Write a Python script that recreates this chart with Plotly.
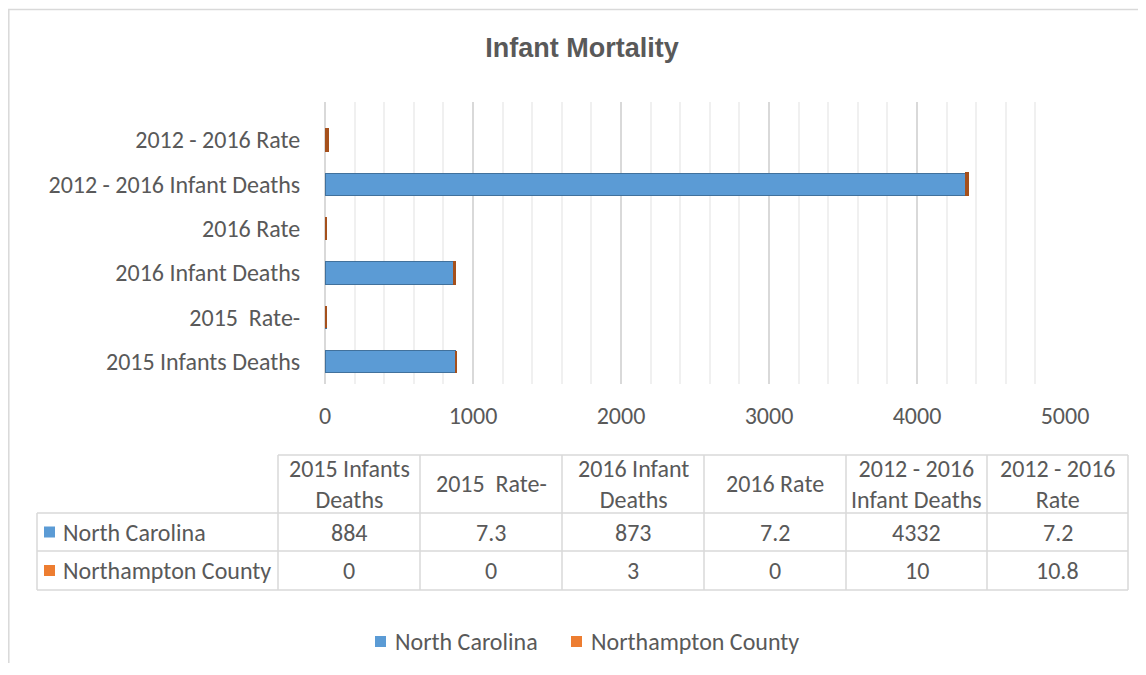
import plotly.graph_objects as go

# ---------------- data ----------------
categories = ["2015 Infants Deaths", "2015\u00a0 Rate-", "2016 Infant Deaths",
              "2016 Rate", "2012 - 2016 Infant Deaths", "2012 - 2016 Rate"]
header_labels = ["2015 Infants<br>Deaths", "2015\u00a0 Rate-", "2016 Infant<br>Deaths",
                 "2016 Rate", "2012 - 2016<br>Infant Deaths", "2012 - 2016<br>Rate"]
series_names = ["North Carolina", "Northampton County"]
north_carolina = [884, 7.3, 873, 7.2, 4332, 7.2]
northampton = [0, 0, 3, 0, 10, 10.8]
table_values = [["884", "7.3", "873", "7.2", "4332", "7.2"],
                ["0", "0", "3", "0", "10", "10.8"]]
x_ticks = [0, 1000, 2000, 3000, 4000, 5000]

# ---------------- style ----------------
OFF = 8                      # page body margin
W, H = 1146 - 2 * OFF, 655
FONT = "Carlito, Lato, 'Open Sans', sans-serif"
FS = 24
TXT = "#595959"
BLUE = "#5B9BD5"
ORANGE = "#ED7D31"
GRID = "#D9D9D9"


def px(x):
    return (x - OFF) / W


def py(y):
    return 1 - (y - OFF) / H


fig = go.Figure()
fig.add_trace(go.Bar(
    y=categories, x=north_carolina, orientation="h", name=series_names[0],
    marker=dict(color=BLUE, line=dict(color="#41719C", width=1)),
))
fig.add_trace(go.Bar(
    y=categories, x=northampton, orientation="h", name=series_names[1],
    marker=dict(color=ORANGE, line=dict(color="#A5501C", width=2)),
))

shapes = []
annotations = []

# outer chart border (left and top visible)
shapes.append(dict(type="rect", xref="paper", yref="paper",
                   x0=px(8.8), x1=px(1200), y0=py(720), y1=py(9.5),
                   line=dict(color=GRID, width=1.5), layer="below"))

# ---------------- data table ----------------
col_edges = [37, 278, 420, 562, 704, 846, 987, 1128]
row_edges = [455, 513, 551, 590]
shapes.append(dict(type="line", xref="paper", yref="paper", x0=px(col_edges[1]), x1=px(col_edges[-1]),
                   y0=py(row_edges[0]), y1=py(row_edges[0]), line=dict(color=GRID, width=1.5)))
for r in row_edges[1:]:
    shapes.append(dict(type="line", xref="paper", yref="paper", x0=px(col_edges[0]), x1=px(col_edges[-1]),
                       y0=py(r), y1=py(r), line=dict(color=GRID, width=1.5)))
shapes.append(dict(type="line", xref="paper", yref="paper", x0=px(col_edges[0]), x1=px(col_edges[0]),
                   y0=py(row_edges[1]), y1=py(row_edges[-1]), line=dict(color=GRID, width=1.5)))
for c in col_edges[1:]:
    shapes.append(dict(type="line", xref="paper", yref="paper", x0=px(c), x1=px(c),
                       y0=py(row_edges[0]), y1=py(row_edges[-1]), line=dict(color=GRID, width=1.5)))

for i, lab in enumerate(header_labels):
    cx = (col_edges[i + 1] + col_edges[i + 2]) / 2
    cy = (row_edges[0] + row_edges[1]) / 2
    annotations.append(dict(xref="paper", yref="paper", x=px(cx), y=py(cy), text=lab,
                            showarrow=False, xanchor="center", yanchor="middle",
                            font=dict(family=FONT, size=FS, color=TXT)))
colors = [BLUE, ORANGE]
for r, name in enumerate(series_names):
    cy = (row_edges[r + 1] + row_edges[r + 2]) / 2
    shapes.append(dict(type="rect", xref="paper", yref="paper",
                       x0=px(44), x1=px(55), y0=py(cy + 5.5), y1=py(cy - 5.5),
                       fillcolor=colors[r], line=dict(width=0)))
    annotations.append(dict(xref="paper", yref="paper", x=px(61), y=py(cy), text=name,
                            showarrow=False, xanchor="left", yanchor="middle",
                            font=dict(family=FONT, size=FS, color=TXT)))
    for i, v in enumerate(table_values[r]):
        cx = (col_edges[i + 1] + col_edges[i + 2]) / 2
        annotations.append(dict(xref="paper", yref="paper", x=px(cx), y=py(cy), text=v,
                                showarrow=False, xanchor="center", yanchor="middle",
                                font=dict(family=FONT, size=FS, color=TXT)))

# ---------------- bottom legend (drawn manually) ----------------
legend_square_x = [375, 571]
for k, name in enumerate(series_names):
    x0 = legend_square_x[k]
    shapes.append(dict(type="rect", xref="paper", yref="paper",
                       x0=px(x0), x1=px(x0 + 11), y0=py(647), y1=py(636),
                       fillcolor=colors[k], line=dict(width=0)))
    annotations.append(dict(xref="paper", yref="paper", x=px(x0 + 18), y=py(641), text=name,
                            showarrow=False, xanchor="left", yanchor="middle",
                            font=dict(family=FONT, size=FS, color=TXT)))

fig.update_layout(
    width=W, height=H,
    margin=dict(l=0, r=0, t=0, b=0, autoexpand=False),
    paper_bgcolor="white", plot_bgcolor="white",
    barmode="stack", bargap=0.5,
    title=dict(text="<b>Infant Mortality</b>", x=px(582), xanchor="center",
               y=py(48), yanchor="middle",
               font=dict(family="'Liberation Sans Narrow', 'Liberation Sans', Arial, sans-serif",
                         size=27, color=TXT)),
    font=dict(family=FONT, size=FS, color=TXT),
    xaxis=dict(domain=[px(325), px(1065)], range=[0, 5000],
               tickvals=x_ticks, ticktext=[str(t) for t in x_ticks],
               showgrid=True, gridcolor=GRID, gridwidth=1.5,
               zeroline=True, zerolinecolor=GRID, zerolinewidth=1.5,
               minor=dict(dtick=200, showgrid=True, gridcolor="#F0F0F0", gridwidth=1.5),
               ticks="outside", ticklen=10, tickcolor="rgba(0,0,0,0)",
               tickfont=dict(family=FONT, size=FS, color=TXT),
               showline=False, fixedrange=True, automargin=False),
    yaxis=dict(domain=[py(384), py(102)], range=[-0.5, 5.85],
               type="category", showgrid=False, zeroline=False,
               ticks="outside", ticklen=19, tickcolor="rgba(0,0,0,0)",
               tickfont=dict(family=FONT, size=FS, color=TXT),
               showline=False, fixedrange=True, automargin=False),
    shapes=shapes, annotations=annotations,
    showlegend=False,
)

fig.write_html("out.html")
